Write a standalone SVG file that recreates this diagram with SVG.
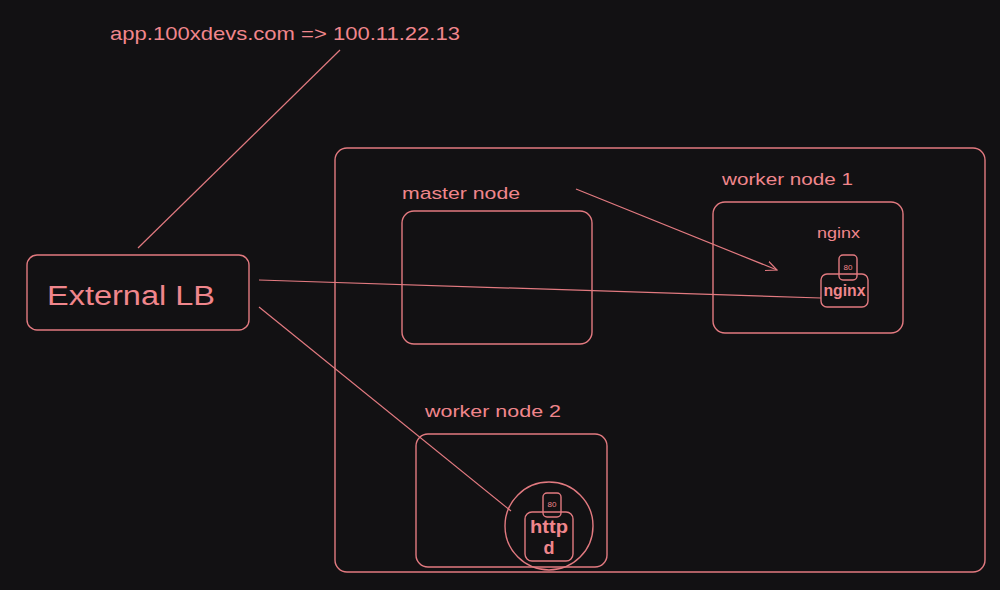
<svg xmlns="http://www.w3.org/2000/svg" width="1000" height="590" viewBox="0 0 1000 590">
<defs>
<style>
.box{fill:none;stroke:#e27a80;stroke-width:1.4}
.ln{fill:none;stroke:#e27a80;stroke-width:1.2}
.t{fill:#f0868c;font-family:"Liberation Sans","DejaVu Sans",sans-serif}
</style>
<marker id="arr" viewBox="0 0 12 12" refX="11" refY="6" markerWidth="12" markerHeight="12" markerUnits="userSpaceOnUse" orient="auto">
<path d="M0,1 L11,6 L0,11" fill="none" stroke="#e27a80" stroke-width="1.2"/>
</marker>
</defs>
<rect width="1000" height="590" fill="#121113"/>
<g id="dns-label">
<text class="t" x="110" y="40" font-size="19" textLength="350" lengthAdjust="spacingAndGlyphs">app.100xdevs.com =&gt; 100.11.22.13</text>
</g>
<g id="cluster">
<rect class="box" x="335" y="148" width="650" height="424" rx="12"/>
</g>
<g id="external-lb">
<rect class="box" x="27" y="255" width="222" height="75" rx="10"/>
<text class="t" x="47" y="305" font-size="27" textLength="168" lengthAdjust="spacingAndGlyphs">External LB</text>
</g>
<g id="master-node">
<text class="t" x="402" y="199" font-size="17" textLength="118" lengthAdjust="spacingAndGlyphs">master node</text>
<rect class="box" x="402" y="211" width="190" height="133" rx="12"/>
</g>
<g id="worker-node-1">
<text class="t" x="722" y="185" font-size="17" textLength="131" lengthAdjust="spacingAndGlyphs">worker node 1</text>
<rect class="box" x="713" y="202" width="190" height="131" rx="12"/>
<text class="t" x="817" y="238" font-size="15" textLength="43" lengthAdjust="spacingAndGlyphs">nginx</text>
</g>
<g id="nginx-port">
<rect class="box" x="839" y="255" width="18" height="25" rx="4"/>
<text class="t" x="848" y="270" font-size="8" text-anchor="middle">80</text>
</g>
<g id="nginx-pod">
<rect class="box" x="821" y="274" width="47" height="33" rx="6"/>
<text class="t" x="844.5" y="296" font-size="16" font-weight="bold" text-anchor="middle" textLength="42" lengthAdjust="spacingAndGlyphs">nginx</text>
</g>
<g id="worker-node-2">
<text class="t" x="425" y="417" font-size="17" textLength="136" lengthAdjust="spacingAndGlyphs">worker node 2</text>
<rect class="box" x="416" y="434" width="191" height="133" rx="12"/>
</g>
<g id="httpd-pod">
<circle class="box" cx="549" cy="526" r="44"/>
<rect class="box" x="525" y="512" width="48" height="49" rx="7"/>
<text class="t" x="549" y="533" font-size="18" font-weight="bold" text-anchor="middle" textLength="38" lengthAdjust="spacingAndGlyphs">http</text>
<text class="t" x="549" y="554" font-size="18" font-weight="bold" text-anchor="middle">d</text>
</g>
<g id="httpd-port">
<rect class="box" x="543" y="493" width="18" height="24" rx="4"/>
<text class="t" x="552" y="507" font-size="8" text-anchor="middle">80</text>
</g>
<g id="connectors">
<path class="ln" d="M340,50 L138,248"/>
<path class="ln" d="M576,189 L777,270" marker-end="url(#arr)"/>
<path class="ln" d="M259,280 L821,298"/>
<path class="ln" d="M259,307 L511,511"/>
</g>
</svg>
